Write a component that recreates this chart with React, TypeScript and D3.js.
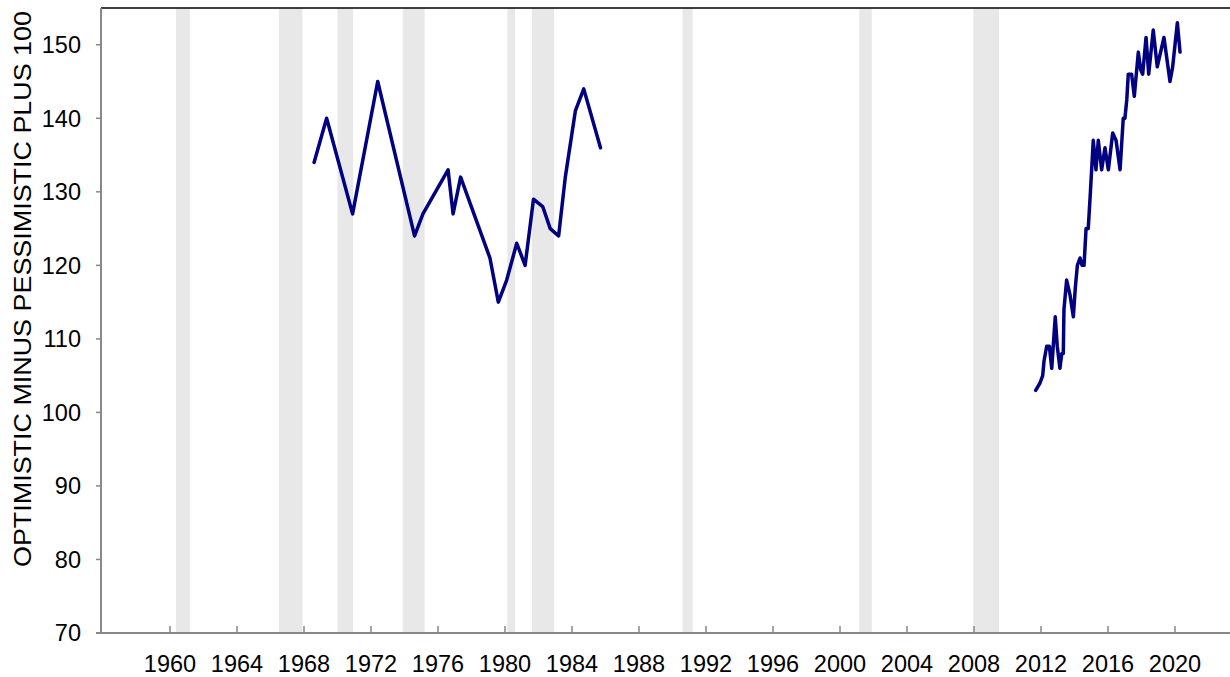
import React from "react";
import * as d3 from "d3";

const yTicks = [70, 80, 90, 100, 110, 120, 130, 140, 150];
const xTicks = [1960, 1964, 1968, 1972, 1976, 1980, 1984, 1988, 1992, 1996, 2000, 2004, 2008, 2012, 2016, 2020];

const recessions: [number, number][] = [
  [1960.36, 1961.18],
  [1966.5, 1967.9],
  [1970.0, 1970.93],
  [1973.9, 1975.2],
  [1980.14, 1980.6],
  [1981.6, 1982.93],
  [1990.6, 1991.2],
  [2001.15, 2001.9],
  [2007.96, 2009.5],
];

const earlyYears = [1968.6, 1969.35, 1970.9, 1972.4, 1974.6, 1975.1, 1976.6, 1976.9, 1977.35, 1979.1, 1979.6, 1980.1, 1980.7, 1981.2, 1981.7, 1982.25, 1982.7, 1983.2, 1983.6, 1984.2, 1984.7, 1985.7];
const earlyValues = [134, 140, 127, 145, 124, 127, 133, 127, 132, 121, 115, 118, 123, 120, 129, 128, 125, 124, 132, 141, 144, 136];

const lateYears = [2011.68, 2011.94, 2012.1, 2012.18, 2012.34, 2012.5, 2012.64, 2012.73, 2012.85, 2012.97, 2013.13, 2013.24, 2013.33, 2013.37, 2013.53, 2013.73, 2013.93, 2014.05, 2014.17, 2014.33, 2014.45, 2014.57, 2014.69, 2014.82, 2014.95, 2015.12, 2015.28, 2015.42, 2015.62, 2015.82, 2016.02, 2016.28, 2016.48, 2016.72, 2016.91, 2017.01, 2017.12, 2017.21, 2017.41, 2017.57, 2017.81, 2017.95, 2018.07, 2018.27, 2018.43, 2018.7, 2018.94, 2019.34, 2019.7, 2019.86, 2020.14, 2020.3];
const lateValues = [103, 104, 105, 107, 109, 109, 106, 109, 113, 109, 106, 108, 108, 114, 118, 116, 113, 117, 120, 121, 120, 120, 125, 125, 130, 137, 133, 137, 133, 136, 133, 138, 137, 133, 140, 140, 142.5, 146, 146, 143, 149, 146.6, 146, 151, 146, 152, 147, 151, 145, 147, 153, 149];

const W = 1230;
const H = 677;
const left = 101;
const right = 1230;
const top = 8;
const bottom = 633;

export default function App() {
  const x = d3.scaleLinear().domain([1955.88, 1955.88 + (right - left) / 16.75]).range([left, right]);
  const y = d3.scaleLinear().domain([70, 155]).range([bottom, top]);
  const line = d3
    .line<[number, number]>()
    .x((d) => x(d[0]))
    .y((d) => y(d[1]));
  const early = earlyYears.map((yr, i) => [yr, earlyValues[i]] as [number, number]);
  const late = lateYears.map((yr, i) => [yr, lateValues[i]] as [number, number]);
  const font = "Arial, 'Liberation Sans', sans-serif";
  return (
    <svg width={W} height={H} style={{ position: "absolute", left: 0, top: 0, background: "#fff" }}>
      {recessions.map(([a, b], i) => (
        <rect key={i} x={x(a)} y={top} width={x(b) - x(a)} height={bottom - top} fill="#e8e8e8" />
      ))}
      <line x1={left} x2={right} y1={top} y2={top} stroke="#000" strokeWidth={1.5} />
      <line x1={left} x2={left} y1={top} y2={bottom} stroke="#888" strokeWidth={2} />
      <line x1={96} x2={right} y1={bottom} y2={bottom} stroke="#888" strokeWidth={2} />
      {yTicks.map((t) => (
        <g key={t}>
          <line x1={96} x2={left} y1={y(t)} y2={y(t)} stroke="#888" strokeWidth={1.5} />
          <text x={81} y={y(t)} dy="0.36em" textAnchor="end" fontFamily={font} fontSize={23.5} fill="#000">
            {t}
          </text>
        </g>
      ))}
      {xTicks.map((t) => (
        <g key={t}>
          <line x1={x(t)} x2={x(t)} y1={bottom - 7} y2={bottom} stroke="#888" strokeWidth={1.5} />
          <text x={x(t)} y={672} textAnchor="middle" fontFamily={font} fontSize={23.5} fill="#000">
            {t}
          </text>
        </g>
      ))}
      <text
        transform={`translate(31, 289) rotate(-90)`}
        textAnchor="middle"
        fontFamily={font}
        fontSize={23}
        textLength={556}
        lengthAdjust="spacingAndGlyphs"
        fill="#000"
      >
        OPTIMISTIC MINUS PESSIMISTIC PLUS 100
      </text>
      <path d={line(early) || ""} fill="none" stroke="#000080" strokeWidth={3.5} strokeLinejoin="round" strokeLinecap="round" />
      <path d={line(late) || ""} fill="none" stroke="#000080" strokeWidth={3.5} strokeLinejoin="round" strokeLinecap="round" />
    </svg>
  );
}
